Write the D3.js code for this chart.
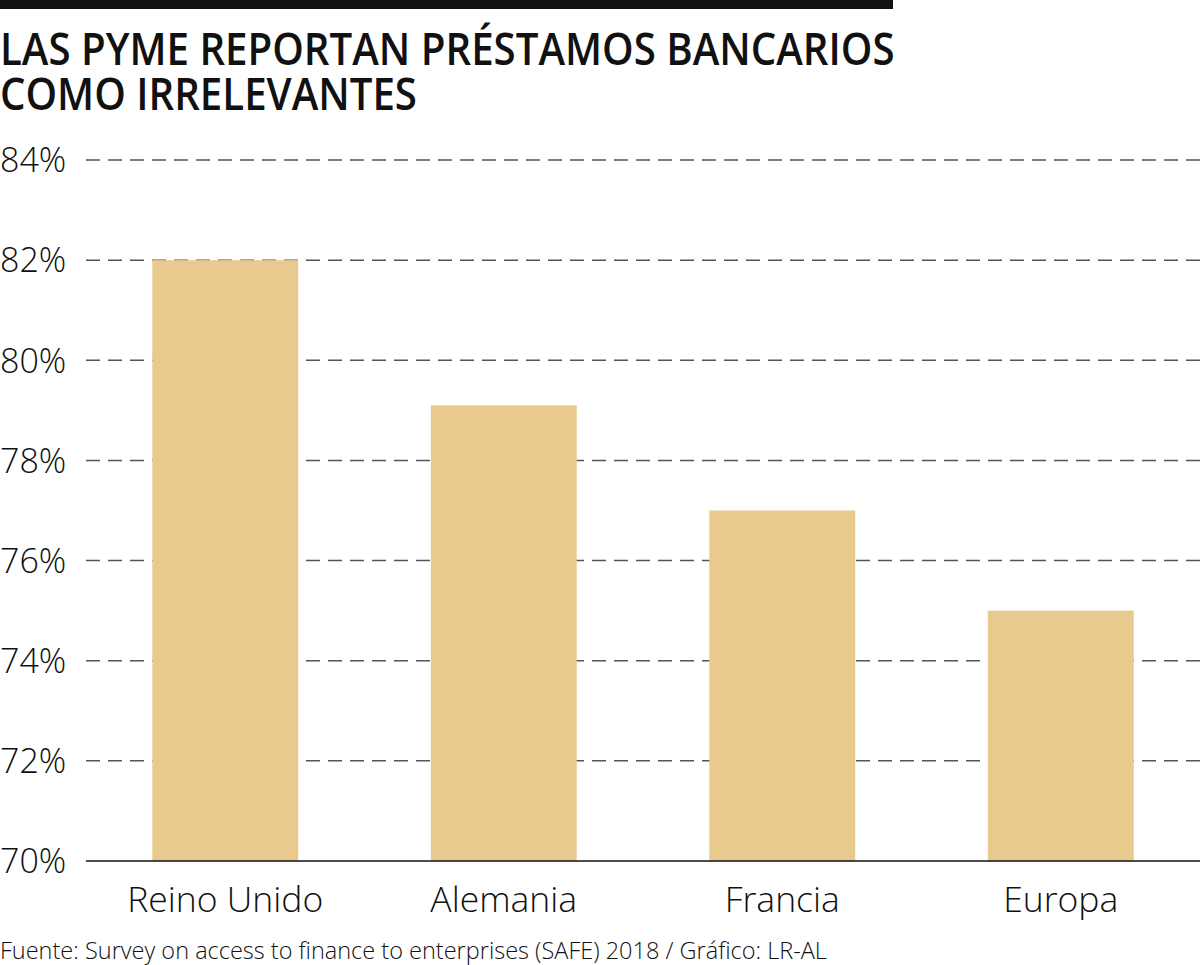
<!DOCTYPE html>
<html><head><meta charset="utf-8">
<script src="https://cdn.jsdelivr.net/npm/d3@7/dist/d3.min.js"></script>
<style>
body{margin:0;background:#fff;}
svg{display:block;}
</style></head>
<body>
<svg id="chart" width="1200" height="965"></svg>
<script>
const categories = ["Reino Unido", "Alemania", "Francia", "Europa"];
const values = [82, 79.1, 77, 75];
const yTicks = [70, 72, 74, 76, 78, 80, 82, 84];
const titleLines = ["LAS PYME REPORTAN PRÉSTAMOS BANCARIOS", "COMO IRRELEVANTES"];
const source = "Fuente: Survey on access to finance to enterprises (SAFE) 2018 / Gráfico: LR-AL";

const svg = d3.select("#chart");
const W = 1200;

svg.append("rect").attr("x",0).attr("y",0).attr("width",893).attr("height",9).attr("fill","#111");

const tg = svg.append("g");
tg.selectAll("text.title").data(titleLines).enter().append("text")
  .attr("class","title")
  .attr("x",0).attr("y",(d,i)=>65+i*45)
  .attr("font-family","'Open Sans', sans-serif").attr("font-weight",600)
  .attr("font-size",45).attr("fill","#111")
  .text(d=>d);
const tlen = tg.select("text.title").node().getComputedTextLength();
tg.attr("transform",`scale(${895/tlen},1)`);

const y = d3.scaleLinear().domain([70,84]).range([861,160]);
const x = d3.scaleBand().domain(categories).range([86,W]).paddingInner(0.476).paddingOuter(0.238);

const grid = svg.append("g");
grid.selectAll("line").data(yTicks.filter(t=>t>70)).enter().append("line")
  .attr("x1",86).attr("x2",W).attr("y1",d=>y(d)).attr("y2",d=>y(d))
  .attr("stroke","#555").attr("stroke-width",1.5).attr("stroke-dasharray","14,8");

svg.selectAll("rect.bar").data(values).enter().append("rect")
  .attr("class","bar")
  .attr("x",(d,i)=>x(categories[i])).attr("width",x.bandwidth())
  .attr("y",d=>y(d)).attr("height",d=>y(70)-y(d))
  .attr("fill","#E8CA8E");

svg.append("line").attr("x1",86).attr("x2",W).attr("y1",y(70)).attr("y2",y(70))
  .attr("stroke","#111").attr("stroke-width",1.5);

svg.selectAll("text.ytick").data(yTicks).enter().append("text")
  .attr("class","ytick")
  .attr("x",0).attr("y",d=>y(d)).attr("dy","0.36em")
  .attr("font-family","'Open Sans', sans-serif").attr("font-weight",300)
  .attr("font-size",34).attr("fill","#111")
  .text(d=>d+"%");

svg.selectAll("text.xcat").data(categories).enter().append("text")
  .attr("class","xcat")
  .attr("x",d=>x(d)+x.bandwidth()/2).attr("y",912)
  .attr("text-anchor","middle")
  .attr("font-family","'Open Sans', sans-serif").attr("font-weight",300)
  .attr("font-size",35.5).attr("fill","#111")
  .text(d=>d);

svg.append("text").attr("x",0).attr("y",959)
  .attr("font-family","'Open Sans', sans-serif").attr("font-weight",300)
  .attr("font-size",23.5).attr("fill","#111")
  .text(source);
</script>
</body></html>
